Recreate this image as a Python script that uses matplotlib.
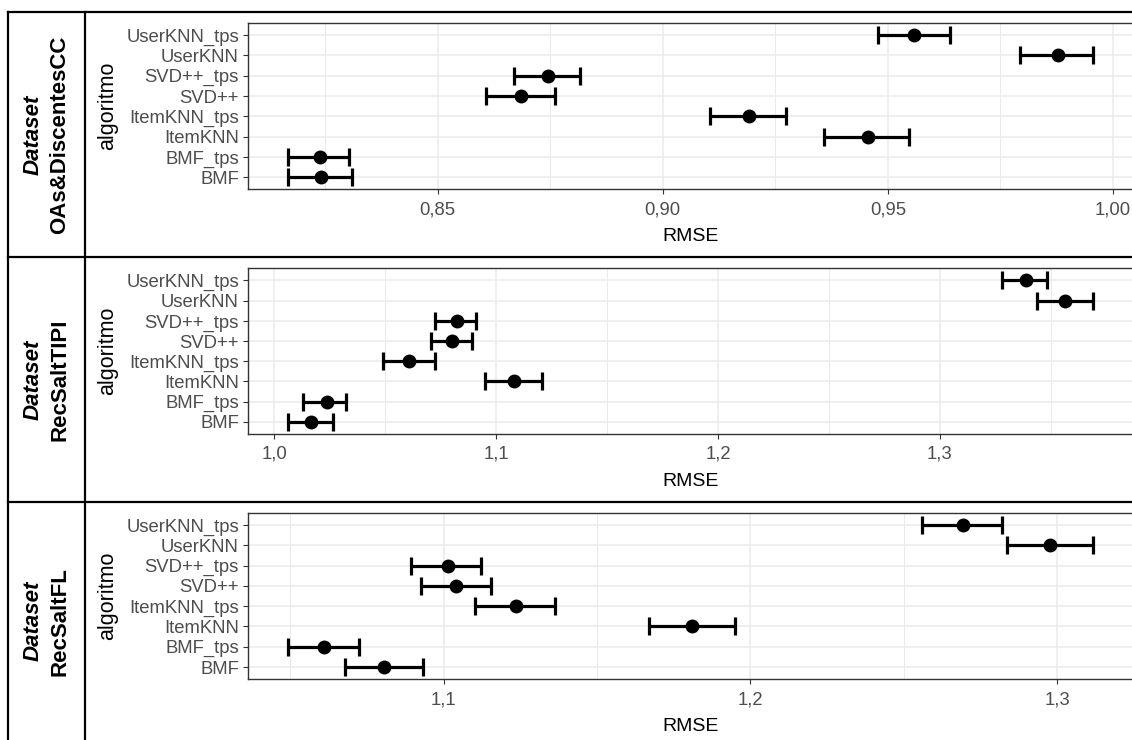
import numpy as np
import matplotlib
matplotlib.use("Agg")
import matplotlib.pyplot as plt
from matplotlib.lines import Line2D
from matplotlib.ticker import FuncFormatter, MultipleLocator

plt.rcParams['font.family'] = ['Liberation Sans', 'DejaVu Sans']

# categories (bottom to top on the y axis)
algoritmos = ["BMF", "BMF_tps", "ItemKNN", "ItemKNN_tps",
              "SVD++", "SVD++_tps", "UserKNN", "UserKNN_tps"]

datasets = ["OAs&DiscentesCC", "RecSaltTIPI", "RecSaltFL"]

# OAs&DiscentesCC
rmse_oas = [0.8241, 0.8239, 0.9455, 0.9192, 0.8686, 0.8744, 0.9877, 0.9557]
lo_oas = [0.8168, 0.8168, 0.9358, 0.9105, 0.8608, 0.8670, 0.9794, 0.9479]
hi_oas = [0.8309, 0.8303, 0.9546, 0.9274, 0.8760, 0.8817, 0.9955, 0.9637]

# RecSaltTIPI
rmse_tipi = [1.0166, 1.0238, 1.1083, 1.0608, 1.0801, 1.0823, 1.3567, 1.3387]
lo_tipi = [1.0063, 1.0130, 1.0948, 1.0489, 1.0706, 1.0725, 1.3437, 1.3280]
hi_tipi = [1.0265, 1.0324, 1.1206, 1.0725, 1.0891, 1.0910, 1.3690, 1.3484]

# RecSaltFL
rmse_fl = [1.0806, 1.0610, 1.1809, 1.1235, 1.1040, 1.1014, 1.2976, 1.2693]
lo_fl = [1.0678, 1.0493, 1.1668, 1.1101, 1.0925, 1.0893, 1.2836, 1.2560]
hi_fl = [1.0933, 1.0723, 1.1950, 1.1362, 1.1153, 1.1121, 1.3116, 1.2821]

series = [(rmse_oas, lo_oas, hi_oas),
          (rmse_tipi, lo_tipi, hi_tipi),
          (rmse_fl, lo_fl, hi_fl)]
major_steps = [0.05, 0.1, 0.1]
decimals = [2, 1, 1]

W, H = 1132, 740
fig = plt.figure(figsize=(W / 100, H / 100), dpi=100)

# layout in pixels
panels_px = [(23, 189.3), (268.3, 434), (512.7, 679.3)]
rows_px = [(12.3, 256.7), (256.7, 502.3), (502.3, 740)]
left_px = 248

grid_col = '#EBEBEB'
y = np.arange(len(algoritmos))

for i, (mean, lo, hi) in enumerate(series):
    mean, lo, hi = np.array(mean), np.array(lo), np.array(hi)
    top, bot = panels_px[i]
    ax = fig.add_axes([left_px / W, 1 - bot / H, (W + 1 - left_px) / W, (bot - top) / H])
    ax.errorbar(mean, y, xerr=[mean - lo, hi - mean], fmt='o', color='black',
                ms=9, elinewidth=2.3, capsize=6.4, capthick=2.3, zorder=3)

    rng = hi.max() - lo.min()
    ax.set_xlim(lo.min() - 0.05 * rng, hi.max() + 0.05 * rng)
    ax.set_ylim(-0.6, len(algoritmos) - 0.4)

    step = major_steps[i]
    d = decimals[i]
    ax.xaxis.set_major_locator(MultipleLocator(step))
    ax.xaxis.set_minor_locator(MultipleLocator(step / 2))
    ax.xaxis.set_major_formatter(FuncFormatter(lambda v, p, d=d: f"{v:.{d}f}".replace('.', ',')))
    ax.set_yticks(y)
    ax.set_yticklabels(algoritmos)

    ax.set_axisbelow(True)
    ax.grid(which='major', color=grid_col, lw=1.1)
    ax.grid(which='minor', axis='x', color=grid_col, lw=0.7)
    ax.tick_params(which='minor', length=0)
    ax.tick_params(which='major', length=3.5, width=0.8, color='#333333',
                   labelcolor='#4D4D4D', labelsize=13.3, pad=3)
    ax.tick_params(axis='x', pad=5)
    for s in ax.spines.values():
        s.set_color('#333333')
        s.set_linewidth(1.0)

    ax.set_xlabel('RMSE', fontsize=14, labelpad=7)
    ax.set_ylabel('algoritmo', fontsize=15.5, labelpad=6)

    # strip text on the left
    r0, r1 = rows_px[i]
    cy = 1 - (r0 + r1) / 2 / H
    fig.text(33 / W, cy, 'Dataset', rotation=90, ha='center', va='center',
             fontsize=16, weight='bold', style='italic')
    fig.text(60 / W, cy, datasets[i], rotation=90, ha='center', va='center',
             fontsize=16, weight='bold')

# table frame
def line(x0, y0, x1, y1):
    fig.add_artist(Line2D([x0 / W, x1 / W], [1 - y0 / H, 1 - y1 / H],
                          transform=fig.transFigure, color='black', lw=1.6))

line(8.3, 12.3, 8.3, 740)
line(85, 12.3, 85, 740)
for yy in [12.3, 256.7, 502.3]:
    line(8.3, yy, W, yy)

fig.savefig('out.png', dpi=100)
